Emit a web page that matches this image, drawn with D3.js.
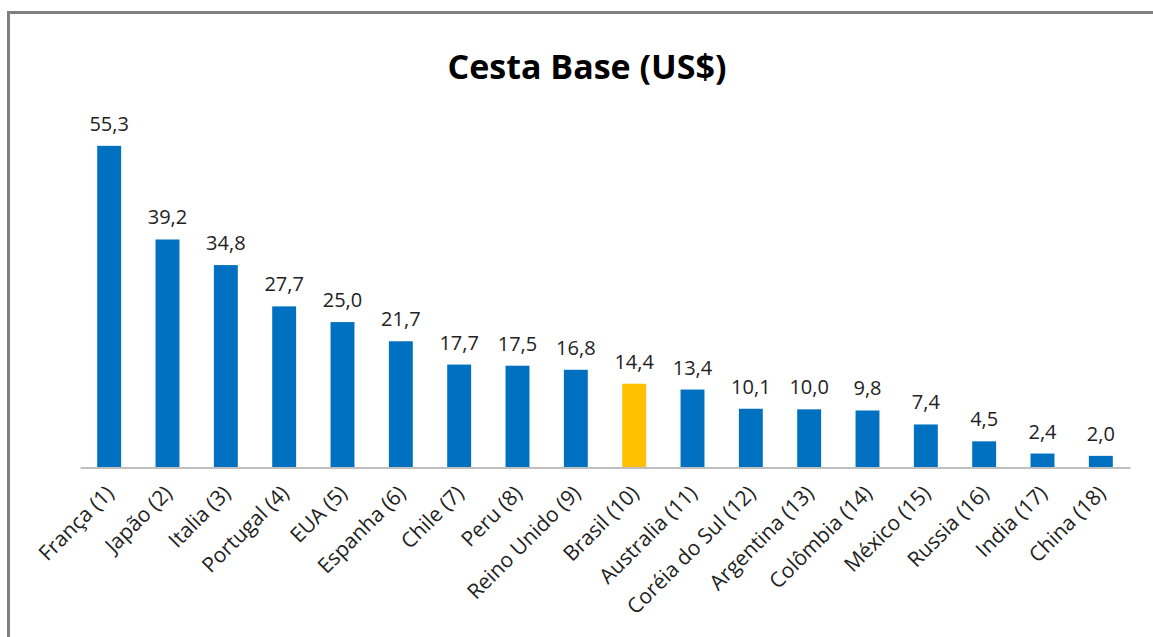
<!DOCTYPE html>
<html><head><meta charset="utf-8">
<script src="https://cdn.jsdelivr.net/npm/d3@7"></script>
<style>body{margin:0;background:#fff;}svg{display:block;font-family:"Open Sans",sans-serif;}</style>
</head><body>
<svg id="c" width="1153" height="637"></svg>
<script>
const categories = ["França (1)","Japão (2)","Italia (3)","Portugal (4)","EUA (5)","Espanha (6)","Chile (7)","Peru (8)","Reino Unido (9)","Brasil (10)","Australia (11)","Coréia do Sul (12)","Argentina (13)","Colômbia (14)","México (15)","Russia (16)","India (17)","China (18)"];
const values = [55.3,39.2,34.8,27.7,25.0,21.7,17.7,17.5,16.8,14.4,13.4,10.1,10.0,9.8,7.4,4.5,2.4,2.0];
const highlight = ["Brasil (10)"];
const title = "Cesta Base (US$)";

const svg = d3.select("#c");
// frame
svg.append("line").attr("x1",8.5).attr("x2",8.5).attr("y1",12).attr("y2",637).attr("stroke","#808080").attr("stroke-width",3);
svg.append("line").attr("x1",7).attr("x2",1153).attr("y1",12.5).attr("y2",12.5).attr("stroke","#808080").attr("stroke-width",3);

const x = d3.scaleBand().domain(categories).range([80,1130]).paddingInner(0.59).paddingOuter(0.295);
const y = d3.scaleLinear().domain([0,60]).range([467.5,118.5]);

svg.append("text").attr("x",587).attr("y",79).attr("text-anchor","middle")
  .attr("font-size",34).attr("font-weight","bold").attr("fill","#000").text(title);

const fmt = v => d3.format(".1f")(v).replace(".",",");

svg.selectAll("rect.bar").data(values).enter().append("rect")
  .attr("class","bar")
  .attr("x",(d,i)=>x(categories[i]))
  .attr("width",x.bandwidth())
  .attr("y",d=>y(d))
  .attr("height",d=>y(0)-y(d))
  .attr("fill",(d,i)=>highlight.includes(categories[i])?"#FFC000":"#0070C0");

svg.selectAll("text.val").data(values).enter().append("text")
  .attr("class","val")
  .attr("x",(d,i)=>x(categories[i])+x.bandwidth()/2)
  .attr("y",d=>y(d)-15)
  .attr("text-anchor","middle").attr("font-size",20).attr("fill","#222")
  .text(fmt);

const ax = svg.append("g").attr("transform",`translate(0,${y(0)})`)
  .call(d3.axisBottom(x).tickSize(0).tickPadding(0));
ax.select(".domain").attr("stroke","#BFBFBF").attr("stroke-width",2);
ax.selectAll("text")
  .attr("font-size",21).attr("fill","#222").attr("font-family","'Open Sans',sans-serif")
  .attr("text-anchor","end").attr("dy",0)
  .attr("transform","translate(6,27) rotate(-45)");
</script>
</body></html>
